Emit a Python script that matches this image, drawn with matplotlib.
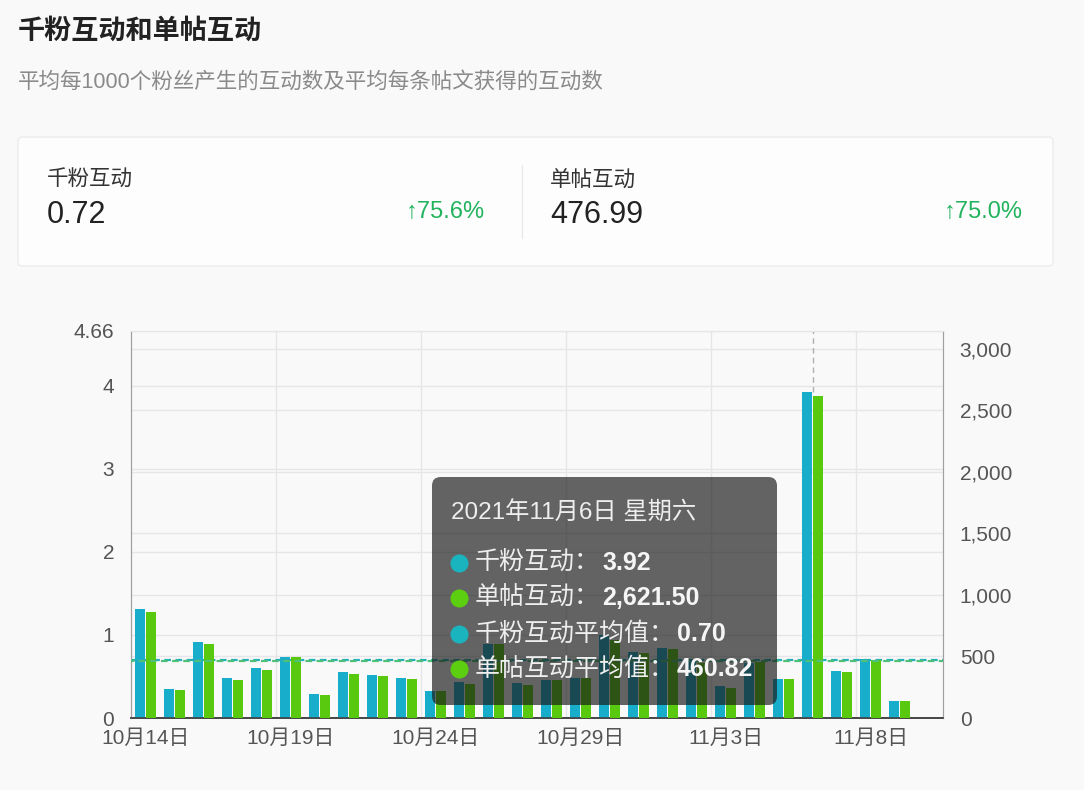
import numpy as np
import matplotlib
matplotlib.use("Agg")
import matplotlib.pyplot as plt
import matplotlib.transforms as mtransforms
from matplotlib.patches import FancyBboxPatch
from matplotlib.lines import Line2D

plt.rcParams['font.family'] = ['Liberation Sans', 'Noto Sans CJK SC', 'DejaVu Sans']

# Data
dates = ["10月14日", "10月15日", "10月16日", "10月17日", "10月18日", "10月19日", "10月20日",
         "10月21日", "10月22日", "10月23日", "10月24日", "10月25日", "10月26日", "10月27日",
         "10月28日", "10月29日", "10月30日", "10月31日", "11月1日", "11月2日", "11月3日",
         "11月4日", "11月5日", "11月6日", "11月7日", "11月8日", "11月9日", "11月10日"]
fans_inter = [1.31, 0.35, 0.92, 0.48, 0.60, 0.74, 0.29, 0.55, 0.52, 0.48, 0.32, 0.43, 0.89, 0.42,
              0.46, 0.48, 1.00, 0.80, 0.84, 0.69, 0.38, 0.66, 0.47, 3.92, 0.56, 0.71, 0.21, np.nan]
post_inter = [864, 228, 602, 311, 393, 493, 187, 358, 339, 315, 217, 279, 599, 268,
              309, 323, 634, 526, 561, 450, 246, 455, 313, 2621.5, 374, 475, 138, np.nan]
fans_avg = 0.70
post_avg = 460.82
left_ticks = [0, 1, 2, 3, 4, 4.66]
right_ticks = [0, 500, 1000, 1500, 2000, 2500, 3000]

card_items = [("千粉互动", "0.72", "↑75.6%"), ("单帖互动", "476.99", "↑75.0%")]
tip_title = "2021年11月6日 星期六"
tip_rows = [("千粉互动：", "3.92"), ("单帖互动：", "2,621.50"),
            ("千粉互动平均值：", "0.70"), ("单帖互动平均值：", "460.82")]
hover_idx = 23

cyan = "#19adcc"
green = "#58c90f"
W, H = 1084, 790


def fx(x):
    return x / W


def fy(y):
    return 1 - y / H


fig = plt.figure(figsize=(W / 100, H / 100), dpi=100, facecolor="#f9f9fa")

# header
fig.text(fx(18), fy(32), "千粉互动和单帖互动", fontsize=19.5, weight="bold",
         color="#222222", va="center")
fig.text(fx(18), fy(82), "平均每1000个粉丝产生的互动数及平均每条帖文获得的互动数",
         fontsize=15.5, color="#8a8a8a", va="center")

# summary card
card = FancyBboxPatch((fx(18), fy(266)), fx(1053) - fx(18), fy(137) - fy(266),
                      boxstyle="round,pad=0,rounding_size=0.004", mutation_aspect=W / H,
                      facecolor="#fdfdfd", edgecolor="#ececee", lw=1, transform=fig.transFigure)
fig.add_artist(card)
fig.add_artist(Line2D([fx(522), fx(522)], [fy(165), fy(238)], color="#eaeaea", lw=1,
                      transform=fig.transFigure))
for (label, val, pct), x0, x1 in zip(card_items, [47, 550], [485, 1023]):
    fig.text(fx(x0), fy(180), label, fontsize=15.5, color="#333333", va="center")
    fig.text(fx(x0), fy(215), val, fontsize=22, color="#222222", va="center")
    fig.text(fx(x1), fy(212), pct, fontsize=17, color="#22b35e", va="center", ha="right")

# chart
ax = fig.add_axes([fx(131), fy(718), fx(943) - fx(131), fy(331) - fy(718)])
ax.set_facecolor("none")
ax2 = ax.twinx()

ax.set_xlim(-0.5, len(dates) - 0.5)
ax.set_ylim(0, 4.66)
ax2.set_ylim(0, 3146)

# grid lines for both scales, all kept underneath the bars
grid_c = "#e6e6e8"
for v in left_ticks[1:]:
    ax.axhline(v, color=grid_c, lw=1, zorder=0)
right_tr = mtransforms.blended_transform_factory(ax.transAxes, ax2.transData)
for v in right_ticks[1:]:
    ax.add_line(Line2D([0, 1], [v, v], color=grid_c, lw=1, transform=right_tr, zorder=0))
for k in range(5, len(dates), 5):
    ax.axvline(k - 0.5, color=grid_c, lw=1, zorder=0)

# hover crosshair
ax.plot([hover_idx, hover_idx], [fans_inter[hover_idx], 4.66], color="#b0b0b0", lw=1,
        ls=(0, (4, 3)), zorder=1)

x = np.arange(len(dates))
bw = 0.34
ax.bar(x - 0.2, fans_inter, width=bw, color=cyan, zorder=3)
ax2.bar(x + 0.2, post_inter, width=bw, color=green, zorder=3)

ax.set_yticks(left_ticks)
ax.set_yticklabels(["0", "1", "2", "3", "4", "4.66"])
ax2.set_yticks(right_ticks)
ax2.set_yticklabels([f"{v:,}" for v in right_ticks])
ax.set_xticks(x[::5])
ax.set_xticklabels(dates[::5])

# average lines
ax.axhline(fans_avg, color="#25b0b8", lw=1.6, ls=(0, (3, 2)), zorder=4)
ax2.axhline(post_avg, color="#4fc07a", lw=1.6, ls=(1.5, (3, 2)), zorder=4)

for a in (ax, ax2):
    a.tick_params(length=0, labelsize=15, labelcolor="#555555")
    a.spines["top"].set_color(grid_c)
    a.spines["left"].set_color("#a0a0a0")
    a.spines["right"].set_color("#a0a0a0")
    a.spines["bottom"].set_color("#444444")
    a.spines["bottom"].set_linewidth(1.2)
ax.tick_params(axis="y", pad=12)
ax2.tick_params(axis="y", pad=12)
ax.tick_params(axis="x", pad=8)

# tooltip
tip = FancyBboxPatch((fx(432), fy(705)), fx(777) - fx(432), fy(477) - fy(705),
                     boxstyle="round,pad=0,rounding_size=0.008", mutation_aspect=W / H,
                     facecolor="#191919", alpha=0.67, edgecolor="none",
                     transform=fig.transFigure, zorder=10)
fig.add_artist(tip)
fig.text(fx(451), fy(513), tip_title, fontsize=17.5, color="#eeeeee", va="center", zorder=11)
dot_colors = ["#1ab4bf", "#5ccf10", "#1ab4bf", "#5ccf10"]
value_x = [602, 602, 677, 677]
for (lab, val), yy, dc, vx in zip(tip_rows, [563, 598, 634, 669], dot_colors, value_x):
    fig.add_artist(Line2D([fx(459)], [fy(yy)], marker="o", markersize=12, color=dc,
                          transform=fig.transFigure, zorder=11))
    fig.text(fx(475), fy(yy), lab, fontsize=18, color="#eeeeee", va="center", zorder=11)
    fig.text(fx(vx), fy(yy), val, fontsize=18, color="#f5f5f5", weight="bold",
             va="center", zorder=11)

fig.savefig("out.png", dpi=100, facecolor=fig.get_facecolor())
